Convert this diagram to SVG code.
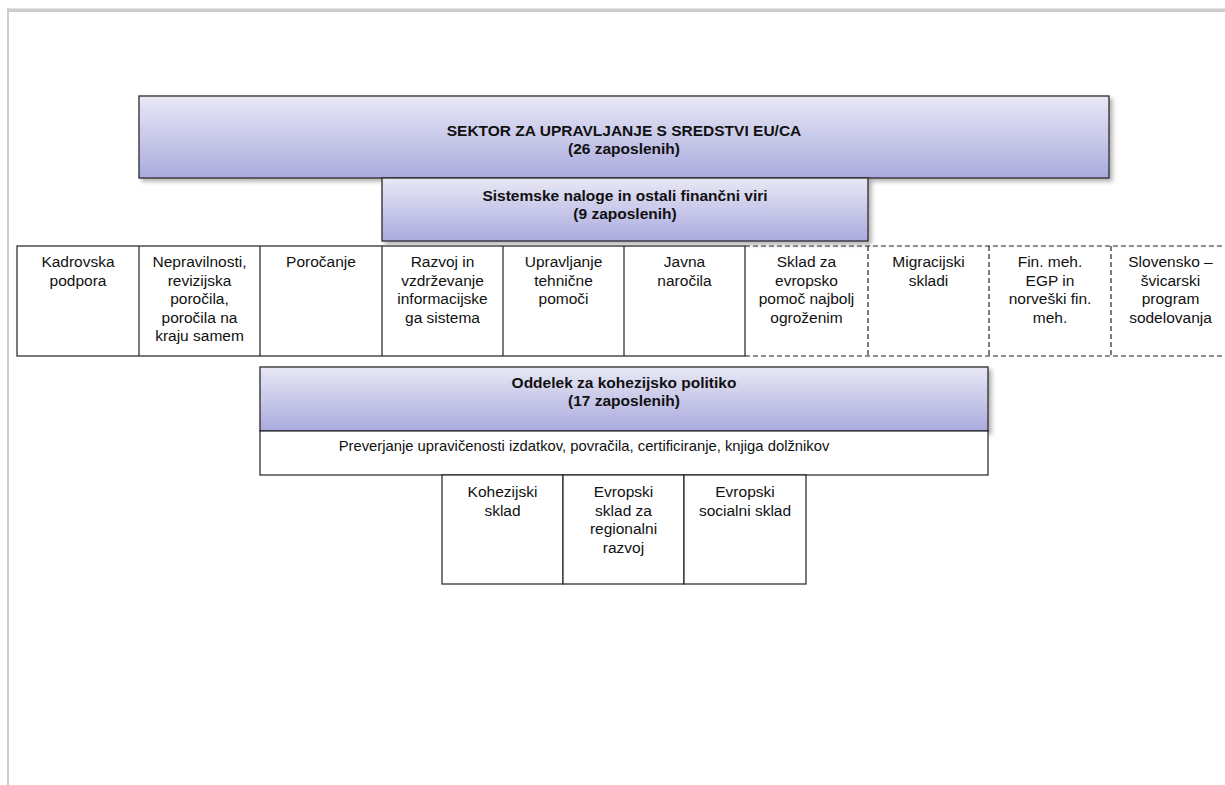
<svg xmlns="http://www.w3.org/2000/svg" width="1225" height="785" viewBox="0 0 1225 785">
<defs>
<linearGradient id="lav" x1="0" y1="0" x2="0" y2="1">
<stop offset="0" stop-color="#E8E8F5"/>
<stop offset="1" stop-color="#AAAADF"/>
</linearGradient>
<filter id="sh" x="-5%" y="-5%" width="115%" height="130%">
<feDropShadow dx="3" dy="3" stdDeviation="2" flood-color="#000" flood-opacity="0.3"/>
</filter>
</defs>
<style>
.hdr{fill:url(#lav);stroke:#2b2b2b;stroke-width:1.3;filter:url(#sh)}
.cell{fill:#fff;stroke:#222;stroke-width:1.2}
.dash{fill:none;stroke:#222;stroke-width:1.2;stroke-dasharray:5 3}
.t{font-family:"Liberation Sans",Arial,sans-serif;font-size:15.5px;fill:#111;text-anchor:middle}
.b{font-family:"Liberation Sans",Arial,sans-serif;font-size:15.5px;font-weight:bold;fill:#111;text-anchor:middle}
</style>
<rect width="1225" height="785" fill="#fff"/>
<g id="page-border">
<rect x="7" y="8.5" width="1218" height="3.5" fill="#CCCCCC"/>
<rect x="7" y="8.5" width="2" height="776.5" fill="#CCCCCC"/>
</g>
<g id="connectors"></g>
<g id="sektor">
<rect class="hdr" x="139" y="96" width="970" height="82"/>
<text class="b" x="624" y="136">SEKTOR ZA UPRAVLJANJE S SREDSTVI EU/CA</text>
<text class="b" x="624" y="154">(26 zaposlenih)</text>
</g>
<g id="sistemske">
<rect class="hdr" x="382" y="178" width="486" height="63"/>
<text class="b" x="625" y="201">Sistemske naloge in ostali finančni viri</text>
<text class="b" x="625" y="219">(9 zaposlenih)</text>
</g>
<g id="row">
<rect class="cell" x="17" y="246" width="728" height="110"/>
<g id="kadrovska"><line x1="139" y1="246" x2="139" y2="356" stroke="#222" stroke-width="1.2"/>
<text class="t" x="78" y="267">Kadrovska</text><text class="t" x="78" y="285.5">podpora</text></g>
<g id="nepravilnosti"><line x1="260" y1="246" x2="260" y2="356" stroke="#222" stroke-width="1.2"/>
<text class="t" x="199.5" y="267">Nepravilnosti,</text><text class="t" x="199.5" y="285.5">revizijska</text><text class="t" x="199.5" y="304">poročila,</text><text class="t" x="199.5" y="322.5">poročila na</text><text class="t" x="199.5" y="341">kraju samem</text></g>
<g id="porocanje"><line x1="382" y1="246" x2="382" y2="356" stroke="#222" stroke-width="1.2"/>
<text class="t" x="321" y="267">Poročanje</text></g>
<g id="razvoj"><line x1="503" y1="246" x2="503" y2="356" stroke="#222" stroke-width="1.2"/>
<text class="t" x="442.5" y="267">Razvoj in</text><text class="t" x="442.5" y="285.5">vzdrževanje</text><text class="t" x="442.5" y="304">informacijske</text><text class="t" x="442.5" y="322.5">ga sistema</text></g>
<g id="upravljanje"><line x1="624" y1="246" x2="624" y2="356" stroke="#222" stroke-width="1.2"/>
<text class="t" x="563.5" y="267">Upravljanje</text><text class="t" x="563.5" y="285.5">tehnične</text><text class="t" x="563.5" y="304">pomoči</text></g>
<g id="javna">
<text class="t" x="684.5" y="267">Javna</text><text class="t" x="684.5" y="285.5">naročila</text></g>
</g>
<g id="dashed-row">
<path class="dash" d="M745 246 H1225 M745 356 H1225 M868 246 V356 M989 246 V356 M1111 246 V356"/>
<g id="sklad-evropsko"><text class="t" x="806.5" y="267">Sklad za</text><text class="t" x="806.5" y="285.5">evropsko</text><text class="t" x="806.5" y="304">pomoč najbolj</text><text class="t" x="806.5" y="322.5">ogroženim</text></g>
<g id="migracijski"><text class="t" x="928.5" y="267">Migracijski</text><text class="t" x="928.5" y="285.5">skladi</text></g>
<g id="fin-meh"><text class="t" x="1050" y="267">Fin. meh.</text><text class="t" x="1050" y="285.5">EGP in</text><text class="t" x="1050" y="304">norveški fin.</text><text class="t" x="1050" y="322.5">meh.</text></g>
<g id="slovensko"><text class="t" x="1170.5" y="267">Slovensko –</text><text class="t" x="1170.5" y="285.5">švicarski</text><text class="t" x="1170.5" y="304">program</text><text class="t" x="1170.5" y="322.5">sodelovanja</text></g>
</g>
<g id="oddelek">
<rect class="hdr" x="260" y="367" width="728" height="64"/>
<text class="b" x="624" y="387.5">Oddelek za kohezijsko politiko</text>
<text class="b" x="624" y="405.5">(17 zaposlenih)</text>
</g>
<g id="preverjanje">
<rect class="cell" x="260" y="431" width="728" height="44"/>
<text class="t" x="584" y="451" style="font-size:14.8px">Preverjanje upravičenosti izdatkov, povračila, certificiranje, knjiga dolžnikov</text>
</g>
<g id="kohezijski">
<rect class="cell" x="442" y="475" width="121" height="109"/>
<text class="t" x="502.5" y="497">Kohezijski</text><text class="t" x="502.5" y="515.5">sklad</text>
</g>
<g id="esrr">
<rect class="cell" x="563" y="475" width="121" height="109"/>
<text class="t" x="623.5" y="497">Evropski</text><text class="t" x="623.5" y="515.5">sklad za</text><text class="t" x="623.5" y="534">regionalni</text><text class="t" x="623.5" y="552.5">razvoj</text>
</g>
<g id="esf">
<rect class="cell" x="684" y="475" width="122" height="109"/>
<text class="t" x="745" y="497">Evropski</text><text class="t" x="745" y="515.5">socialni sklad</text>
</g>
</svg>
